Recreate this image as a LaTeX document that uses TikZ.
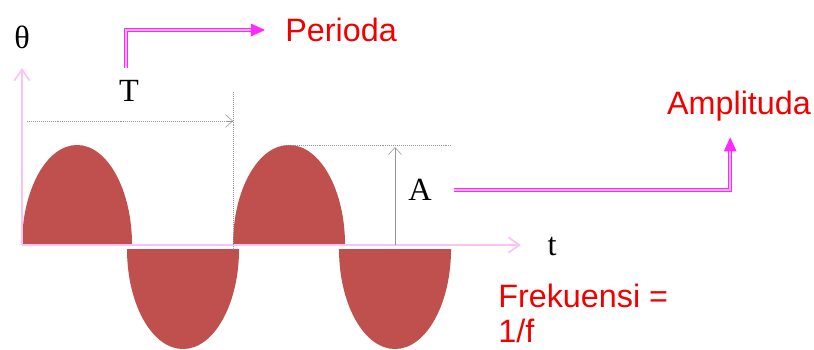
\documentclass[tikz,border=0pt]{standalone}
\usepackage{fontspec}
\setmainfont{Liberation Serif}
\newfontfamily\arialfont{Liberation Sans}
\usetikzlibrary{arrows.meta, positioning}

\definecolor{humpred}{HTML}{C0504D}
\definecolor{axispink}{RGB}{250,195,245}
\definecolor{linkmagenta}{RGB}{255,40,255}
\definecolor{guidegray}{RGB}{150,150,150}

\begin{document}
\begin{tikzpicture}[
          x=0.025cm, y=-0.025cm,
          hump/.style={fill=humpred},
          axisline/.style={draw=axispink, line width=1.6pt, -{Straight Barb[length=8pt, width=11pt, line width=1.2pt]}},
          guideline/.style={draw=guidegray, densely dotted, line width=0.4pt},
          guidearrow/.style={draw=guidegray, line width=0.4pt, -{Straight Barb[length=5pt, width=9pt, line width=0.4pt]}},
          linkarrow/.style={draw=linkmagenta, double=linkmagenta!35, double distance=1.1pt, line width=0.7pt, -{Triangle[length=10pt, width=9pt]}},
          symlabel/.style={inner sep=0pt, font=\fontsize{23pt}{27pt}\selectfont},
          redlabel/.style={inner sep=0pt, align=left, text=red!95!black, font=\arialfont\fontsize{23pt}{24.5pt}\selectfont}
        ]
        \useasboundingbox (0,0) rectangle (814,349);

        % ----------------------------------------------------
        % GELOMBANG
        % ----------------------------------------------------
        \fill[hump] (22,245) arc[start angle=180, end angle=0, x radius=1.375cm, y radius=2.5cm] -- cycle;
        \fill[hump] (233,245) arc[start angle=180, end angle=0, x radius=1.4cm, y radius=2.5cm] -- cycle;
        \fill[hump] (127,249) arc[start angle=180, end angle=360, x radius=1.4cm, y radius=2.5cm] -- cycle;
        \fill[hump] (339,249) arc[start angle=180, end angle=360, x radius=1.4cm, y radius=2.5cm] -- cycle;

        % ----------------------------------------------------
        % SUMBU
        % ----------------------------------------------------
        \coordinate (origin) at (22,245);
        \coordinate (ytip) at (22,68);
        \coordinate (xtip) at (521,245);
        \draw[axisline] (origin) -- (ytip);
        \draw[axisline] (origin) -- (xtip);

        \node[symlabel] (theta) at (22,37) {θ};
        \node[symlabel] (lblt) at (552,247) {t};

        % ----------------------------------------------------
        % PERIODA (T) DAN AMPLITUDO (A)
        % ----------------------------------------------------
        \coordinate (tstart) at (27,121);
        \coordinate (tend) at (233,121);
        \coordinate (ttop) at (233,92);
        \coordinate (tbottom) at (233,250);
        \draw[guideline] (tstart) -- (tend);
        \draw[guidearrow] ([xshift=-4pt]tend) -- (tend);
        \draw[guideline] (ttop) -- (tbottom);

        \coordinate (peaktwo) at (287,145);
        \coordinate (peakend) at (451,145);
        \coordinate (ampbase) at (395,245);
        \coordinate (amptop) at (395,147);
        \draw[guideline] (peaktwo) -- (peakend);
        \draw[guidearrow] (ampbase) -- (amptop);

        \node[symlabel] (lblT) at (129,91) {T};
        \node[symlabel] (lblA) at (420,190) {A};

        % ----------------------------------------------------
        % KETERANGAN
        % ----------------------------------------------------
        \node[redlabel, anchor=west] (perioda) at (285,30) {Perioda};
        \node[redlabel] (amplitudo) at (739,106) {Amplituda};
        \node[redlabel, anchor=north west] (frekuensi) at (498,284) {Frekuensi =\\1/f};

        \draw[linkarrow, shorten <=0.3cm, shorten >=0.5cm] ([xshift=-0.08cm]lblT.north) |- (perioda.west);
        \draw[linkarrow, shorten <=0.55cm, shorten >=0.4cm] (lblA.east) -| ([xshift=-0.22cm]amplitudo.south);
      \end{tikzpicture}
\end{document}
